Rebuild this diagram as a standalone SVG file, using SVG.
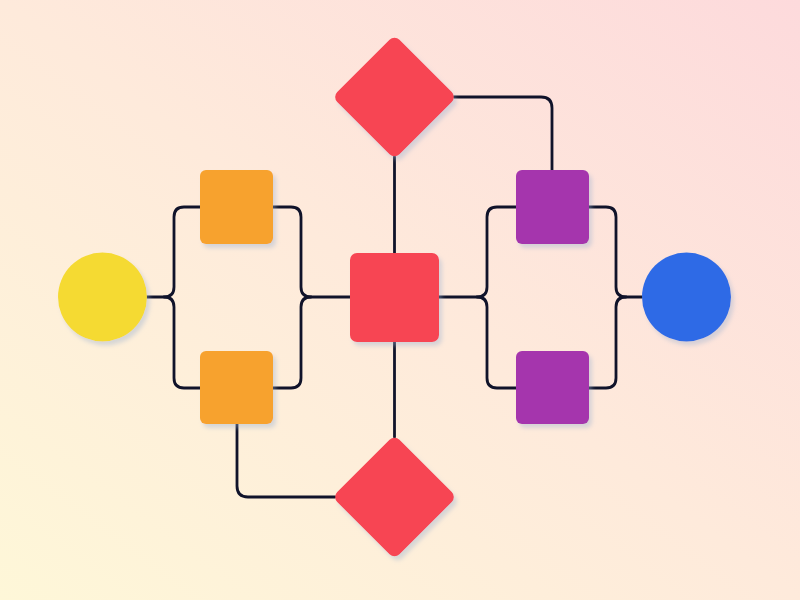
<svg xmlns="http://www.w3.org/2000/svg" width="800" height="600" viewBox="0 0 800 600">
  <defs>
    <linearGradient id="bg" x1="0" y1="1" x2="1" y2="0">
      <stop offset="0" stop-color="#FEF7D8"/>
      <stop offset="0.5" stop-color="#FEEADB"/>
      <stop offset="1" stop-color="#FDDADC"/>
    </linearGradient>
    <filter id="sh" x="-20%" y="-20%" width="150%" height="150%">
      <feDropShadow dx="3" dy="4" stdDeviation="2" flood-color="#9AAFCF" flood-opacity="0.4"/>
    </filter>
  </defs>
  <style>
    .conn { fill: none; stroke: #10132A; stroke-width: 2.8; stroke-linecap: round; stroke-linejoin: round; }
    .node { filter: url(#sh); }
    .yellow { fill: #F5DA33; }
    .orange { fill: #F7A22D; }
    .red { fill: #F74553; }
    .purple { fill: #A535AD; }
    .blue { fill: #2F6BE6; }
  </style>
  <rect x="0" y="0" width="800" height="600" fill="url(#bg)"/>

  <g id="connectors" class="conn">
    <path d="M147,297 H164 Q174,297 174,287 V217 Q174,207 184,207 H200"/>
    <path d="M164,297 Q174,297 174,307 V378 Q174,388 184,388 H200"/>
    <path d="M273,207 H291 Q301,207 301,217 V287 Q301,297 311,297 H350"/>
    <path d="M273,388 H291 Q301,388 301,378 V307 Q301,297 311,297"/>
    <path d="M439,297 H477 Q487,297 487,287 V217 Q487,207 497,207 H516"/>
    <path d="M477,297 Q487,297 487,307 V378 Q487,388 497,388 H516"/>
    <path d="M589,207 H606 Q616,207 616,217 V287 Q616,297 626,297 H642"/>
    <path d="M589,388 H606 Q616,388 616,378 V307 Q616,297 626,297"/>
    <path d="M394.5,157 V253"/>
    <path d="M394.5,342 V437"/>
    <path d="M454,97 H541 Q552,97 552,108 V170"/>
    <path d="M237,424 V486 Q237,497 248,497 H335"/>
  </g>

  <g id="start" class="node"><circle class="yellow" cx="102.5" cy="297" r="44.5"/></g>
  <g id="orange-top" class="node"><rect class="orange" x="200" y="170" width="73" height="74" rx="6"/></g>
  <g id="orange-bottom" class="node"><rect class="orange" x="200" y="351" width="73" height="73" rx="6"/></g>
  <g id="center" class="node"><rect class="red" x="350" y="253" width="89" height="89" rx="7"/></g>
  <g id="decision-top" class="node"><rect class="red" x="350.5" y="53" width="88" height="88" rx="7" transform="rotate(45 394.5 97)"/></g>
  <g id="decision-bottom" class="node"><rect class="red" x="350.5" y="453" width="88" height="88" rx="7" transform="rotate(45 394.5 497)"/></g>
  <g id="purple-top" class="node"><rect class="purple" x="516" y="170" width="73" height="74" rx="6"/></g>
  <g id="purple-bottom" class="node"><rect class="purple" x="516" y="351" width="73" height="73" rx="6"/></g>
  <g id="end" class="node"><circle class="blue" cx="686.5" cy="297" r="44.5"/></g>
</svg>
